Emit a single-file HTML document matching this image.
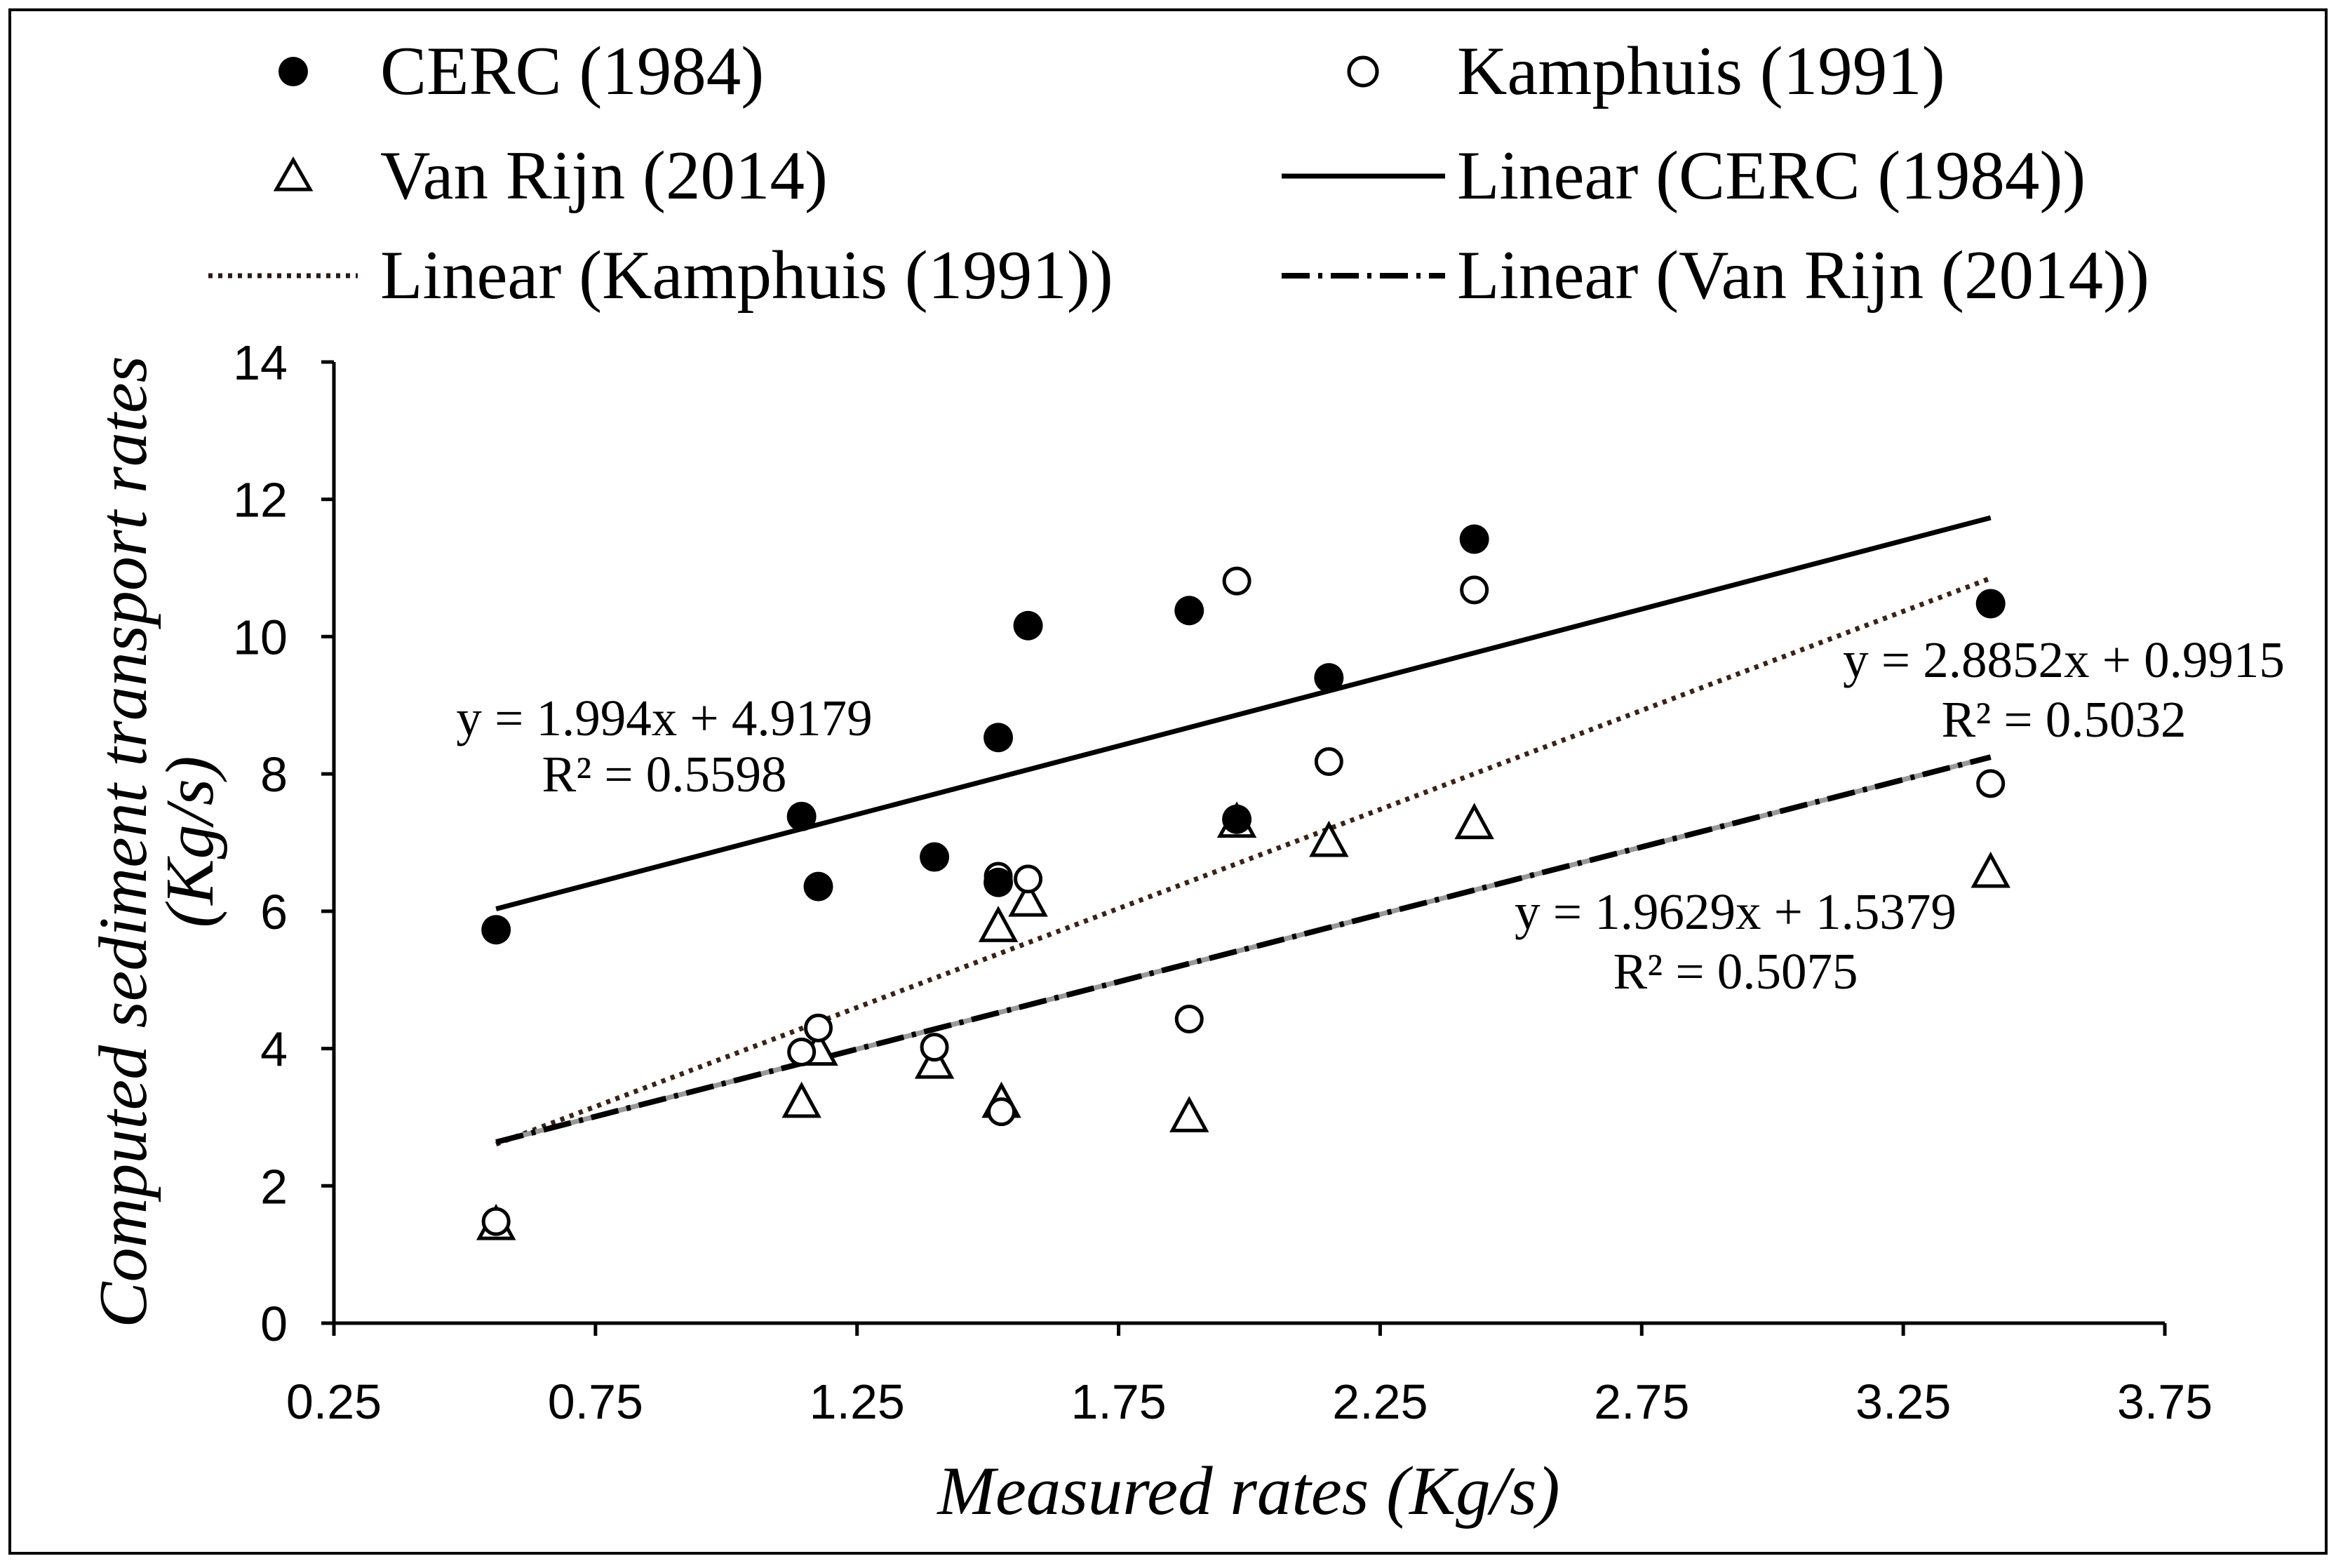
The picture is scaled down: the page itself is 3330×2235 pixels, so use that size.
<!DOCTYPE html>
<html><head><meta charset="utf-8"><style>
html,body{margin:0;padding:0;background:#fff}
svg{display:block}
</style></head><body>
<svg id="chart" width="3330" height="2235" viewBox="0 0 3330 2235" xmlns="http://www.w3.org/2000/svg">
<rect x="14" y="14" width="3302" height="2200" fill="#fff" stroke="#000" stroke-width="4"/>
<g id="legend" font-family="'Liberation Serif',serif" font-size="99" fill="#000">
 <g><circle cx="418" cy="102" r="21" fill="#000"/><text x="542" y="134">CERC (1984)</text></g>
 <g><circle cx="1943" cy="102" r="20" fill="#fff" stroke="#000" stroke-width="5"/><text x="2077" y="134">Kamphuis (1991)</text></g>
 <g><polygon points="418,228 394,270 442,270" fill="#fff" stroke="#000" stroke-width="5"/><text x="542" y="283">Van Rijn (2014)</text></g>
 <g><line x1="1827" y1="251" x2="2060" y2="251" stroke="#000" stroke-width="7"/><text x="2077" y="283">Linear (CERC (1984))</text></g>
 <g><line x1="297" y1="393" x2="510" y2="393" stroke="#2a1a12" stroke-width="7" stroke-dasharray="6,8"/><text x="542" y="425">Linear (Kamphuis (1991))</text></g>
 <g><line x1="1827" y1="393" x2="2060" y2="393" stroke="#000" stroke-width="8" stroke-dasharray="40,12,6,12"/><text x="2077" y="425">Linear (Van Rijn (2014))</text></g>
</g>
<g id="axes"></g>
<g id="plot"></g>
<g font-family="'Liberation Serif',serif" font-size="73" fill="#000" text-anchor="middle">
 <text x="947" y="1048">y = 1.994x + 4.9179</text>
 <text x="947" y="1128">R² = 0.5598</text>
 <text x="2942" y="965">y = 2.8852x + 0.9915</text>
 <text x="2942" y="1050">R² = 0.5032</text>
 <text x="2474" y="1324">y = 1.9629x + 1.5379</text>
 <text x="2474" y="1409">R² = 0.5075</text>
</g>
<text transform="translate(208,1200) rotate(-90)" font-family="'Liberation Serif',serif" font-style="italic" font-size="98" text-anchor="middle">Computed sediment transport rates</text>
<text transform="translate(303,1200) rotate(-90)" font-family="'Liberation Serif',serif" font-style="italic" font-size="98" text-anchor="middle">(Kg/s)</text>
<text x="1780" y="2158" font-family="'Liberation Serif',serif" font-style="italic" font-size="99" text-anchor="middle">Measured rates (Kg/s)</text>
</svg>
<script>
const measured = [0.56,1.144,1.176,1.398,1.52,1.52,1.577,1.885,1.976,2.152,2.43,3.417];
const cercValues = [5.73,7.38,6.36,6.79,8.53,6.42,10.16,10.38,7.34,9.40,11.42,10.48];
const kampX = [0.56,1.144,1.176,1.398,1.52,1.526,1.577,1.885,1.976,2.152,2.43,3.417];
const kampValues = [1.48,3.95,4.30,4.02,6.51,3.08,6.47,4.43,10.81,8.18,10.68,7.86];
const rijnX = [0.56,1.144,1.176,1.398,1.52,1.526,1.577,1.885,1.976,2.152,2.43,3.417];
const rijnValues = [1.43,3.21,3.97,3.78,5.77,3.21,6.14,3.00,7.29,7.01,7.27,6.56];
const xTicks = [0.25,0.75,1.25,1.75,2.25,2.75,3.25,3.75];
const xTickLabels = ["0.25","0.75","1.25","1.75","2.25","2.75","3.25","3.75"];
const yTicks = [0,2,4,6,8,10,12,14];
const yTickLabels = ["0","2","4","6","8","10","12","14"];
const cercFit = [1.994,4.9179];
const kampFit = [2.8852,0.9915];
const rijnFit = [1.9629,1.5379];
const fitRange = [0.56,3.417];

const NS="http://www.w3.org/2000/svg";
const X0=476,X1=3086,Y0=1886,Y1=516;
const xs=v=>X0+(v-0.25)/(3.5)*(X1-X0);
const ys=v=>Y0-(v/14)*(Y0-Y1);
function mk(tag,attrs,parent){const e=document.createElementNS(NS,tag);for(const k in attrs)e.setAttribute(k,attrs[k]);parent.appendChild(e);return e;}
const axes=document.getElementById('axes');
const plot=document.getElementById('plot');
let a=mk('line',{x1:X0,y1:Y1,x2:X0,y2:Y0,stroke:'#000','stroke-width':5},axes);


a=mk('line',{x1:X0,y1:Y0,x2:X1,y2:Y0,stroke:'#000','stroke-width':5},axes);


yTicks.forEach((t,i)=>{
 const y=ys(t);
 const tk=mk('line',{x1:X0-18,y1:y,x2:X0,y2:y,stroke:'#000','stroke-width':5},axes);
 
 
 const tx=mk('text',{x:X0-66,y:y+25,'font-family':"'Liberation Sans',sans-serif",'font-size':70,'text-anchor':'end'},axes);
 tx.textContent=yTickLabels[i];
 
 
});
xTicks.forEach((t,i)=>{
 const x=xs(t);
 const tk=mk('line',{x1:x,y1:Y0,x2:x,y2:Y0+18,stroke:'#000','stroke-width':5},axes);
 
 
 const tx=mk('text',{x:x,y:Y0+136,'font-family':"'Liberation Sans',sans-serif",'font-size':70,'text-anchor':'middle'},axes);
 tx.textContent=xTickLabels[i];
 
 
});
function fitLine(f,attrs,name){
 const l=mk('line',Object.assign({x1:xs(fitRange[0]),y1:ys(f[0]*fitRange[0]+f[1]),x2:xs(fitRange[1]),y2:ys(f[0]*fitRange[1]+f[1])},attrs),plot);
 
 
}
fitLine(cercFit,{stroke:'#000','stroke-width':7},'trendline-cerc');
fitLine(kampFit,{stroke:'#3a2216','stroke-width':7,'stroke-dasharray':'6,8'},'trendline-kamphuis');
fitLine(rijnFit,{stroke:'#999','stroke-width':7},'trendline-vanrijn-base');
fitLine(rijnFit,{stroke:'#000','stroke-width':8,'stroke-dasharray':'40,12,6,12'},'trendline-vanrijn');
rijnValues.forEach((v,i)=>{
 const x=xs(rijnX[i]),y=ys(v);
 const p=mk('polygon',{points:`${x},${y-25} ${x-24},${y+19} ${x+24},${y+19}`,fill:'#fff',stroke:'#000','stroke-width':5},plot);
 
 
});
kampValues.forEach((v,i)=>{
 const c=mk('circle',{cx:xs(kampX[i]),cy:ys(v),r:18,fill:'#fff',stroke:'#000','stroke-width':5},plot);
 
 
});
cercValues.forEach((v,i)=>{
 const c=mk('circle',{cx:xs(measured[i]),cy:ys(v),r:21,fill:'#000'},plot);
 
 
});
</script>
</body></html>
